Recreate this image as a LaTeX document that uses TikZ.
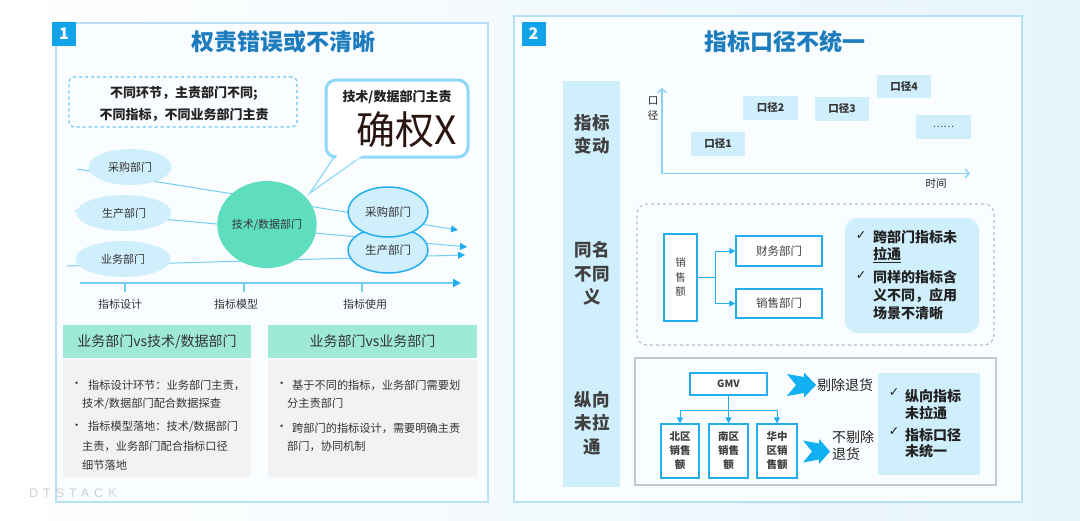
\documentclass[tikz,border=0pt]{standalone}
\usepackage{fontspec}
\setmainfont{Noto Sans CJK SC}
\newfontfamily\dejavu{DejaVu Sans}
\newfontfamily\wmfont[LetterSpace=40]{Liberation Sans}
\usetikzlibrary{shapes.geometric,arrows.meta}
\newcommand\setfs[1]{\fontsize{#1pt}{#1pt}\selectfont}
\newcommand\setfsl[2]{\fontsize{#1pt}{#2pt}\selectfont}
\definecolor{bgblue}{HTML}{E6F4FC}
\definecolor{panelfill}{HTML}{FAFDFF}
\definecolor{panelborder}{HTML}{B5E0F6}
\definecolor{titleblue}{HTML}{1D7CBE}
\definecolor{badgeblue}{HTML}{12A4EA}
\definecolor{lightfill}{HTML}{D0EFFC}
\definecolor{lineblue}{HTML}{72CEF5}
\definecolor{strongblue}{HTML}{22AEEE}
\definecolor{bubbleblue}{HTML}{8ED8FA}
\definecolor{mint}{HTML}{5EDDBF}
\definecolor{mintlight}{HTML}{9EEAD7}
\definecolor{bodygray}{HTML}{F2F2F2}
\definecolor{txt}{HTML}{333333}
\definecolor{darktxt}{HTML}{222222}
\definecolor{coltxt}{HTML}{404040}
\definecolor{arrowblue}{HTML}{10B0F2}
\definecolor{dashgray}{HTML}{BDBDBD}
\definecolor{boxgray}{HTML}{C8C8C8}
\definecolor{axisblue}{HTML}{86D3F7}
\definecolor{wmgray}{HTML}{D0D0D0}
\definecolor{bigtxt}{HTML}{2A1510}
\tikzset{
  panel/.style={draw=panelborder, line width=1.2pt, fill=panelfill},
  badge/.style={fill=badgeblue, text=white, font=\setfs{16}\bfseries, minimum width=24, minimum height=24, inner sep=0},
  titletext/.style={text=titleblue, font=\setfs{23}\bfseries, inner sep=0},
  lell/.style={ellipse, fill=lightfill, inner sep=0, font=\setfs{11}, text=txt},
  rell/.style={ellipse, fill=lightfill, draw=strongblue, line width=1.5pt, inner sep=0, font=\setfs{11.5}, text=txt},
  flow/.style={draw=lineblue, line width=1pt, -{Triangle[length=7pt,width=7pt,color=strongblue]}},
  tick/.style={draw=lineblue, line width=1.6pt},
  axlabel/.style={font=\setfs{11}, text=txt, inner sep=0},
  hdr/.style={fill=mintlight, font=\setfs{14}, text=txt, inner sep=0},
  bodybox/.style={fill=bodygray, inner sep=0},
  bodytext/.style={font=\setfs{11.2}, text=txt, inner sep=0, anchor=west},
  coltext/.style={font=\setfsl{17.5}{23.5}\bfseries, text=coltxt, align=center, inner sep=0},
  kbox/.style={fill=lightfill, minimum width=54, minimum height=24, inner sep=0, font=\setfs{10.5}\bfseries, text=txt},
  axis/.style={draw=axisblue, line width=1.3pt, -{Straight Barb[length=4pt,width=9pt]}},
  sbox/.style={draw=strongblue, line width=1.2pt, fill=white, inner sep=0, text=coltxt},
  conn/.style={draw=strongblue, line width=1pt, -{Triangle[length=6pt,width=6pt]}},
  infotext/.style={font=\setfs{14}\bfseries, text=darktxt, inner sep=0, anchor=west},
  chk/.style={font=\dejavu\setfs{12.5}, text=darktxt, inner sep=0},
  chev/.style={fill=arrowblue, draw=none},
}
\begin{document}
\begin{tikzpicture}[x=1pt,y=-1pt]
\useasboundingbox (0,0) rectangle (1080,520);
\shade[left color=white, right color=bgblue] (0,0) rectangle (1080,520);

% ================= LEFT PANEL =================
\draw[panel] (56,23) rectangle (488,502);
\node[badge] (b1) at (64,34) {1};
\node[titletext] (t1) at (283,42) {权责错误或不清晰};

% dashed note
\node[draw=strongblue!70, dashed, line width=1.2pt, rounded corners=5, minimum width=228, minimum height=50, inner sep=0] (note) at (183,102) {};
\node[font=\setfsl{13}{22}\bfseries, text=darktxt, align=center, inner sep=0] (notetxt) at (184,104) {不同环节，主责部门不同;\\不同指标，不同业务部门主责};

% flow lines (behind)
\coordinate (s1) at (77,169);  \coordinate (e1) at (458,230);
\coordinate (s2) at (75,211);  \coordinate (e2) at (467,247);
\coordinate (s3) at (67,266);  \coordinate (e3) at (465,255);
\draw[flow] (s1) -- (e1);
\draw[flow] (s2) -- (e2);
\draw[flow] (s3) -- (e3);

% axis
\coordinate (a0) at (80,283); \coordinate (a1) at (461,283);
\draw[draw=lineblue, line width=2pt, -{Triangle[length=8pt,width=8pt,color=strongblue]}] (a0) -- (a1);
\coordinate (k1) at (125,283); \coordinate (k2) at (244,283); \coordinate (k3) at (362,283);
\draw[tick] (k1) -- ++(0,9);
\draw[tick] (k2) -- ++(0,9);
\draw[tick] (k3) -- ++(0,9);
\node[axlabel] (l1) at (120,304) {指标设计};
\node[axlabel] (l2) at (236,304) {指标模型};
\node[axlabel] (l3) at (365,304) {指标使用};

% left ellipses
\node[lell, minimum width=83, minimum height=36] (cg) at (130,167) {采购部门};
\node[lell, minimum width=95, minimum height=36] (sc) at (124,213) {生产部门};
\node[lell, minimum width=95, minimum height=36] (yw) at (123,259) {业务部门};

% central circle
\node[ellipse, fill=mint, minimum width=96, minimum height=87, inner sep=0, font=\setfs{11}, text=txt] (js) at (267,224.5) {技术/数据部门};

% right ellipses
\node[rell, minimum width=80, minimum height=46] (rsc) at (388,250) {生产部门};
\node[rell, minimum width=80, minimum height=50] (rcg) at (388,212) {采购部门};

% speech bubble
\coordinate (tip) at (310,193);
\draw[bubbleblue, line width=1.2pt, fill=white] (335,156) -- (tip) -- (362,156);
\node[draw=bubbleblue, line width=3pt, fill=white, rounded corners=10, minimum width=142, minimum height=77, inner sep=0] (bub) at (397,118.5) {};
\fill[white] (338.6,154) -- (364,154) -- (356.9,159.5) -- (335,159.5) -- cycle;
\node[font=\setfs{13}\bfseries, text=darktxt, inner sep=0] (bubt1) at (397,97) {技术/数据部门主责};
\node[font=\setfs{39}, text=bigtxt, inner sep=0] (bubt2) at (407,130) {确权X};

% tables
\node[hdr, minimum width=188, minimum height=33] (h1) at (157,341.5) {业务部门vs技术/数据部门};
\node[bodybox, minimum width=188, minimum height=117] (bd1) at (157,418.5) {};
\node[hdr, minimum width=209, minimum height=33] (h2) at (372.5,341.5) {业务部门vs业务部门};
\node[bodybox, minimum width=209, minimum height=117] (bd2) at (372.5,418.5) {};

\node[bodytext] (p1) at (71,385) {•};
\node[bodytext] (p1a) at (88,385) {指标设计环节：业务部门主责，};
\node[bodytext] (p1b) at (82,404) {技术/数据部门配合数据探查};
\node[bodytext] (p2) at (71,427) {•};
\node[bodytext] (p2a) at (88,427) {指标模型落地：技术/数据部门};
\node[bodytext] (p2b) at (82,446) {主责，业务部门配合指标口径};
\node[bodytext] (p2c) at (82,465) {细节落地};

\node[bodytext] (q1) at (276,385) {•};
\node[bodytext] (q1a) at (292,385) {基于不同的指标，业务部门需要划};
\node[bodytext] (q1b) at (287,403) {分主责部门};
\node[bodytext] (q2) at (276,428) {•};
\node[bodytext] (q2a) at (292,428) {跨部门的指标设计，需要明确主责};
\node[bodytext] (q2b) at (287,446) {部门，协同机制};

% watermark
\node[font=\wmfont\setfs{12.5}, text=wmgray, anchor=west, inner sep=0] (wm) at (29,493) {DTSTACK};

% ================= RIGHT PANEL =================
\draw[panel] (514,16) rectangle (1022,502);
\node[badge] (b2) at (533.5,34) {2};
\node[titletext] (t2) at (785,42) {指标口径不统一};

% label column
\fill[lightfill] (563,81) rectangle (620,487);
\node[coltext] (c1) at (592,134.5) {指标\\变动};
\node[coltext] (c2) at (592,273.5) {同名\\不同\\义};
\node[coltext] (c3) at (592,423) {纵向\\未拉\\通};

% chart
\coordinate (o) at (662,173.5);
\coordinate (yend) at (662,88);
\coordinate (xend) at (970,173.5);
\draw[axis] (o) -- (yend);
\draw[axis] (o) -- (xend);
\node[font=\setfsl{10.5}{15}, text=darktxt, align=center, inner sep=0] (ylab) at (653,108.5) {口\\径};
\node[font=\setfs{10.5}, text=darktxt, inner sep=0] (xlab) at (936,184) {时间};
\node[kbox] (kj1) at (718,144) {口径1};
\node[kbox, minimum width=55] (kj2) at (770.5,108) {口径2};
\node[kbox] (kj3) at (842,109) {口径3};
\node[kbox, minimum height=23] (kj4) at (904,86.5) {口径4};
\node[kbox, minimum width=55, font=\setfs{10}] (kj5) at (943.5,127) {……};

% same name different meaning
\node[draw=dashgray, dashed, line width=1.2pt, rounded corners=10, minimum width=357, minimum height=141, inner sep=0] (dbox) at (815.5,274.5) {};
\node[sbox, minimum width=33, minimum height=87, font=\setfsl{10.5}{14.5}, align=center] (xse) at (680.5,277.5) {销\\售\\额};
\node[sbox, minimum width=86, minimum height=30, font=\setfs{11.5}] (cw) at (779,251) {财务部门};
\node[sbox, minimum width=86, minimum height=29, font=\setfs{11.5}] (xs) at (779,303.5) {销售部门};
\coordinate (jn) at (715,277.5);
\draw[draw=strongblue, line width=1pt] (xse.east) -- (jn);
\draw[conn] (jn) |- (cw.west);
\draw[conn] (jn) |- (xs.west);
\node[fill=lightfill, rounded corners=12, minimum width=134, minimum height=115, inner sep=0] (info1) at (912,275.5) {};
\node[chk] (ck1) at (861,236) {✓};
\node[infotext] (i1a) at (873,237) {跨部门指标未};
\node[infotext] (i1b) at (873,254) {拉通};
\draw[darktxt, line width=0.6pt] (i1b.south west) ++(0,1.5) -- ++(28,0);
\node[chk] (ck2) at (861,276) {✓};
\node[infotext] (i2a) at (873,277) {同样的指标含};
\node[infotext] (i2b) at (873,295) {义不同，应用};
\node[infotext] (i2c) at (873,313) {场景不清晰};

% vertical not connected
\node[draw=boxgray, line width=1.2pt, fill=panelfill, minimum width=361, minimum height=127, inner sep=0] (gbox) at (815.5,421.5) {};
\node[sbox, minimum width=77, minimum height=22, font=\setfs{10}\bfseries] (gmv) at (728.5,384) {GMV};
\node[sbox, minimum width=38, minimum height=54, font=\setfsl{10.5}{14}\bfseries, align=center] (bq) at (680,451) {北区\\销售\\额};
\node[sbox, minimum width=39, minimum height=54, font=\setfsl{10.5}{14}\bfseries, align=center] (nq) at (728.5,451) {南区\\销售\\额};
\node[sbox, minimum width=40, minimum height=54, font=\setfsl{10.5}{14}\bfseries, align=center] (hz) at (777,451) {华中\\区销\\售额};
\coordinate (bar) at (728.5,410);
\draw[conn] (gmv.south) -- (nq.north);
\draw[conn] (bar) -| (bq.north);
\draw[conn] (bar) -| (hz.north);

% chevrons
\begin{scope}[shift={(787,385)}]
\fill[chev] (0,-11) -- (17,-8) -- (17,-12.5) -- (29,0) -- (17,12.5) -- (17,8) -- (0,11) -- (9,0) -- cycle;
\end{scope}
\begin{scope}[shift={(803,451.5)}]
\fill[chev] (0,-11) -- (16,-8) -- (16,-12.5) -- (27,0) -- (16,12.5) -- (16,8) -- (0,11) -- (9,0) -- cycle;
\end{scope}
\node[font=\setfs{14}, text=darktxt, anchor=west, inner sep=0] (tc1) at (817,385) {剔除退货};
\node[font=\setfsl{14}{17.5}, text=darktxt, anchor=west, align=left, inner sep=0] (tc2) at (832,445.5) {不剔除\\退货};

\node[fill=lightfill, minimum width=102, minimum height=102, inner sep=0] (info2) at (929,424) {};
\node[chk] (ck3) at (894,393) {✓};
\node[infotext] (j1a) at (905,396) {纵向指标};
\node[infotext] (j1b) at (905,413) {未拉通};
\node[chk] (ck4) at (894,432) {✓};
\node[infotext] (j2a) at (905,435) {指标口径};
\node[infotext] (j2b) at (905,451) {未统一};
\end{tikzpicture}
\end{document}
